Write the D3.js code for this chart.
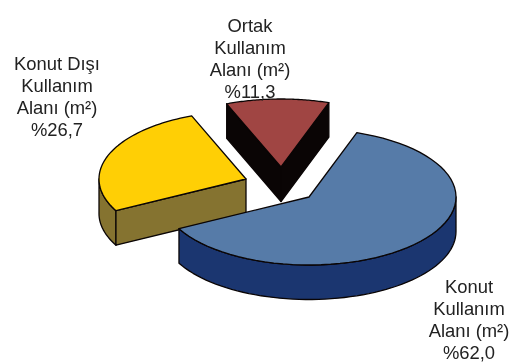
<!DOCTYPE html>
<html>
<head>
<meta charset="utf-8">
<script src="https://cdnjs.cloudflare.com/ajax/libs/d3/7.8.5/d3.min.js"></script>
<style>
  html, body { margin: 0; padding: 0; background: #fff; }
  svg { filter: blur(0.45px); }
  text { font-family: "Liberation Sans", Arial, sans-serif; font-size: 18.4px; fill: #222; text-anchor: middle; }
</style>
</head>
<body>
<div id="canvas"></div>
<script>
var categories = ['Konut Kullanım Alanı (m²)', 'Konut Dışı Kullanım Alanı (m²)', 'Ortak Kullanım Alanı (m²)'];
var shares = [62.0, 26.7, 11.3];
var shareLabels = ['%62,0', '%26,7', '%11,3'];
var labelLines = [['Konut', 'Kullanım', 'Alanı (m²)'], ['Konut Dışı', 'Kullanım', 'Alanı (m²)'], ['Ortak', 'Kullanım', 'Alanı (m²)']];
var topColors = ['#567ba8', '#ffcf05', '#a04543'];
var wallColors = ['#1b3670', '#857330', '#0a0505'];

var width = 518, height = 363;
var rx = 147, ry = 68, depth = 34.5;
var centers = [[309, 197], [246, 179], [281, 167]];
var labelPos = [[469, 293], [57, 70], [250, 32]];
var lineGap = 22;

var svg = d3.select('#canvas').append('svg')
  .attr('width', width)
  .attr('height', height)
  .style('display', 'block');

var startAngle = 19 * Math.PI / 180;
var arcs = d3.pie().sort(null)
  .startAngle(startAngle)
  .endAngle(startAngle + 2 * Math.PI)(shares);

var line = d3.line();

var rimPoint = function(c, a, drop) {
  return [c[0] + rx * Math.sin(a), c[1] - ry * Math.cos(a) + drop];
};

var rim = function(c, a0, a1, drop) {
  var n = 60, pts = [];
  for (var i = 0; i <= n; i++) pts.push(rimPoint(c, a0 + (a1 - a0) * i / n, drop));
  return pts;
};

var cutFace = function(g, c, a, fill) {
  var e = rimPoint(c, a, 0);
  g.append('path')
    .attr('d', line([c, e, [e[0], e[1] + depth], [c[0], c[1] + depth]]) + 'Z')
    .attr('fill', fill);
};

var drawSlice = function(i, faces) {
  var d = arcs[i], c = centers[i];
  var g = svg.append('g')
    .attr('stroke', '#0a0505')
    .attr('stroke-width', 1.3)
    .attr('stroke-linejoin', 'round');

  // outer wall, only the part facing the viewer (90 to 270 degrees)
  var a0 = Math.max(d.startAngle, Math.PI / 2);
  var a1 = Math.min(d.endAngle, 3 * Math.PI / 2);
  if (a0 < a1) {
    g.append('path')
      .attr('d', line(rim(c, a0, a1, 0).concat(rim(c, a1, a0, depth))) + 'Z')
      .attr('fill', wallColors[i]);
  }

  faces.forEach(function(a) { cutFace(g, c, a, wallColors[i]); });

  g.append('path')
    .attr('d', line([c].concat(rim(c, d.startAngle, d.endAngle, 0))) + 'Z')
    .attr('fill', topColors[i]);
};

// back slices first, blue goes over the others
drawSlice(2, [arcs[2].startAngle, arcs[2].endAngle]);
drawSlice(1, [arcs[1].startAngle]);
drawSlice(0, []);

labelLines.forEach(function(lines, i) {
  var t = svg.append('text').attr('aria-label', categories[i]);
  lines.concat([shareLabels[i]]).forEach(function(s, j) {
    t.append('tspan')
      .attr('x', labelPos[i][0])
      .attr('y', labelPos[i][1] + j * lineGap)
      .text(s);
  });
});
</script>
</body>
</html>
